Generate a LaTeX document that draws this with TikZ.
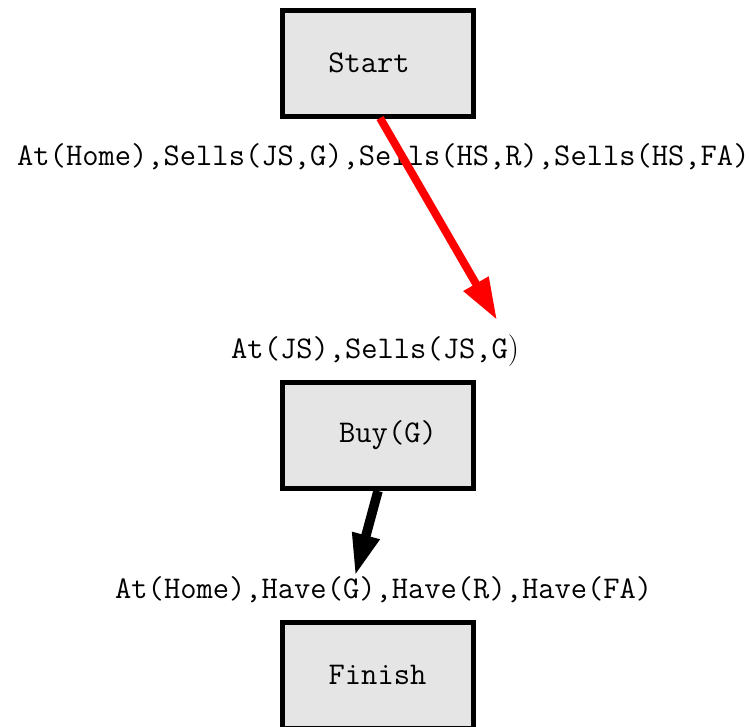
\documentclass[tikz,border=0pt]{standalone}
\usepackage{fontspec}
\setmonofont{Latin Modern Mono}
\usetikzlibrary{arrows.meta}
\definecolor{boxgray}{HTML}{E5E5E5}
\tikzset{
  ttbig/.style={font=\fontsize{31.6}{37}\selectfont\ttfamily},
  stepbox/.style={draw=black, line width=5pt, fill=boxgray, minimum width=191pt,
    minimum height=106pt, inner sep=0pt, ttbig},
  lbl/.style={inner sep=0pt, anchor=base west, ttbig},
  redarrow/.style={draw=red, fill=red, line width=8pt, -{Triangle[length=42pt,width=27pt]}},
  blackarrow/.style={draw=black, fill=black, line width=9.5pt, -{Triangle[length=42pt,width=26pt]}},
}
\begin{document}
\begin{tikzpicture}[x=1pt,y=-1pt]
  \useasboundingbox (0,0) rectangle (749,726);
  \clip (0,0) rectangle (749,726);

  % action boxes
  \node[stepbox] (start)  at (377.5,63)  {\hspace*{-17pt}Start};
  \node[stepbox] (buy)    at (377.5,435.5) {\hspace*{21pt}Buy(G)};
  \node[stepbox] (finish) at (377.5,675) {Finish};

  % condition labels
  \node[lbl] (effstart) at (17,165)  {At(Home),Sells(JS,G),Sells(HS,R),Sells(HS,FA)};
  \node[lbl] (prebuy)   at (231,358) {At(JS),Sells(JS,G{\rmfamily)}};
  \node[lbl] (prefin)   at (115,598) {At(Home),Have(G),Have(R),Have(FA)};

  % causal links
  \coordinate (redtail) at (380,118);
  \coordinate (redtip)  at (497,320);
  \coordinate (blktail) at (378,491);
  \coordinate (blktip)  at (355,576);
  \draw[redarrow] (redtail) -- (redtip);
  \draw[blackarrow] (blktail) -- (blktip);
\end{tikzpicture}
\end{document}
